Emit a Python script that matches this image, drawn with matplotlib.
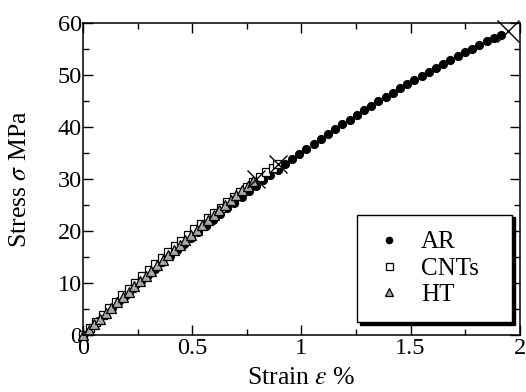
import matplotlib
matplotlib.use('Agg')
import matplotlib.pyplot as plt
from matplotlib.ticker import MultipleLocator, FuncFormatter

plt.rcParams['font.family'] = ['Liberation Serif', 'DejaVu Serif']
plt.rcParams['mathtext.fontset'] = 'stix'

# AR (as received)
ar_strain = [0, 0.033, 0.066, 0.099, 0.132, 0.165, 0.198, 0.231, 0.264, 0.297,
             0.330, 0.363, 0.396, 0.429, 0.462, 0.495, 0.528, 0.561, 0.594, 0.627,
             0.660, 0.693, 0.726, 0.759, 0.792, 0.825, 0.858, 0.891, 0.924, 0.957,
             0.990, 1.023, 1.056, 1.089, 1.122, 1.155, 1.188, 1.221, 1.254, 1.287,
             1.320, 1.353, 1.386, 1.419, 1.452, 1.485, 1.518, 1.551, 1.584, 1.617,
             1.650, 1.683, 1.716, 1.749, 1.782, 1.815, 1.848, 1.881, 1.914]
ar_stress = [0, 1.33, 2.65, 3.96, 5.25, 6.54, 7.81, 9.07, 10.32, 11.55,
             12.78, 13.99, 15.19, 16.38, 17.56, 18.73, 19.88, 21.03, 22.16, 23.28,
             24.39, 25.48, 26.57, 27.64, 28.70, 29.75, 30.79, 31.81, 32.83, 33.83,
             34.82, 35.80, 36.77, 37.72, 38.67, 39.60, 40.52, 41.43, 42.33, 43.21,
             44.09, 44.95, 45.80, 46.64, 47.46, 48.28, 49.08, 49.87, 50.65, 51.42,
             52.18, 52.92, 53.66, 54.38, 55.09, 55.78, 56.47, 57.15, 57.81]

# CNTs
cnt_strain = [0, 0.03, 0.06, 0.09, 0.12, 0.15, 0.18, 0.21, 0.24, 0.27,
              0.30, 0.33, 0.36, 0.39, 0.42, 0.45, 0.48, 0.51, 0.54, 0.57,
              0.60, 0.63, 0.66, 0.69, 0.72, 0.75, 0.78, 0.81, 0.84, 0.87, 0.89]
cnt_stress = [0, 1.31, 2.61, 3.90, 5.16, 6.42, 7.66, 8.89, 10.10, 11.30,
              12.48, 13.65, 14.80, 15.94, 17.07, 18.18, 19.28, 20.36, 21.43, 22.48,
              23.52, 24.54, 25.56, 26.55, 27.53, 28.50, 29.45, 30.39, 31.32, 32.22, 32.82]

# HT
ht_strain = [0, 0.026, 0.052, 0.078, 0.104, 0.130, 0.156, 0.182, 0.208, 0.234,
             0.260, 0.286, 0.312, 0.338, 0.364, 0.390, 0.416, 0.442, 0.468, 0.494,
             0.520, 0.546, 0.572, 0.598, 0.624, 0.650, 0.676, 0.702, 0.728, 0.754, 0.780]
ht_stress = [0, 1.06, 2.12, 3.17, 4.22, 5.27, 6.30, 7.34, 8.36, 9.39,
             10.40, 11.42, 12.42, 13.42, 14.42, 15.41, 16.40, 17.38, 18.36, 19.33,
             20.29, 21.25, 22.21, 23.16, 24.10, 25.04, 25.98, 26.91, 27.83, 28.75, 29.67]

# punkty zerwania (x)
fracture_strain = [1.945, 0.895, 0.79]
fracture_stress = [58.4, 32.9, 30.0]
fracture_size = [16, 13, 13]

fig = plt.figure(figsize=(5.26, 3.92), dpi=100)
ax = fig.add_axes([0.158, 0.145, 0.83, 0.796])

ax.plot(ar_strain, ar_stress, 'o', color='black', ms=5.6, label='AR', clip_on=False)
ax.plot(cnt_strain, cnt_stress, 's', mfc='white', mec='black', mew=0.9, ms=6.3,
        label='CNTs', clip_on=False)
ax.plot(ht_strain, ht_stress, '^', mfc='#a8a8a8', mec='black', mew=0.9, ms=6.5,
        label='HT', clip_on=False)
for xs, ys, s in zip(fracture_strain, fracture_stress, fracture_size):
    ax.plot(xs, ys, 'x', color='black', ms=s, mew=1.0, clip_on=False)

ax.set_xlim(0, 2)
ax.set_ylim(0, 60)
ax.xaxis.set_major_locator(MultipleLocator(0.5))
ax.xaxis.set_minor_locator(MultipleLocator(0.25))
ax.yaxis.set_major_locator(MultipleLocator(10))
ax.yaxis.set_minor_locator(MultipleLocator(5))
ax.xaxis.set_major_formatter(FuncFormatter(lambda v, p: '%g' % v))

ax.tick_params(which='both', direction='in', top=True, right=True, labelsize=17.5, width=1.0)
ax.tick_params(which='major', length=7)
ax.tick_params(which='minor', length=4)
ax.tick_params(axis='y', pad=1)
ax.tick_params(axis='x', pad=2)
for sp in ax.spines.values():
    sp.set_linewidth(1.1)

ax.set_xlabel('Strain $\\varepsilon$ %', fontsize=18.5, labelpad=6)
ax.set_ylabel('Stress $\\sigma$ MPa', fontsize=18.5, labelpad=19)

# legenda z cieniem, rozciagnieta do szerokosci ramki z oryginalu
leg = ax.legend(loc='lower left', bbox_to_anchor=(0.628, 0.042, 0.355, 0.3), mode='expand',
                fontsize=18, fancybox=False, shadow={'color': 'black', 'alpha': 1},
                edgecolor='black', framealpha=1, handletextpad=0.7,
                borderpad=0.65, labelspacing=0.15, markerscale=0.8, handlelength=1.2,
                borderaxespad=0)
leg.get_frame().set_linewidth(1.0)

fig.savefig('out.png', dpi=100)
